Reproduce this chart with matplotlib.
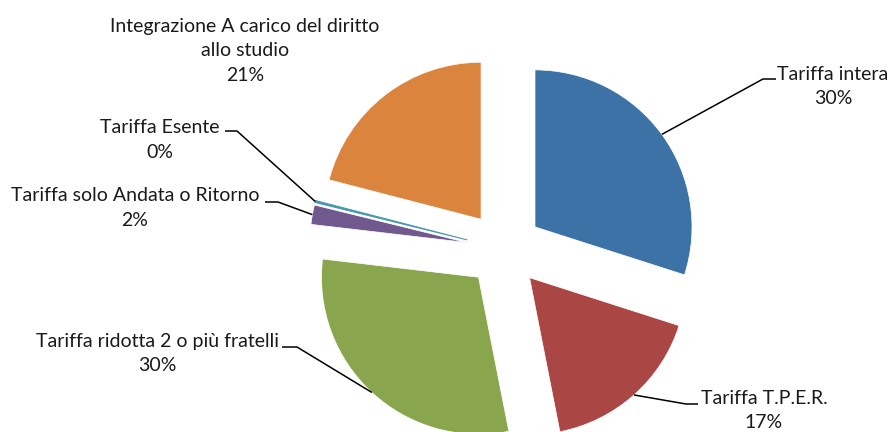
import math
import matplotlib.pyplot as plt

# data (shares in %)
categories = ['Tariffa intera', 'Tariffa T.P.E.R.', 'Tariffa ridotta 2 o più fratelli',
              'Tariffa solo Andata o Ritorno', 'Tariffa Esente',
              'Integrazione A carico del diritto\nallo studio']
values = [30, 17, 30, 2, 0.2, 21]
colors = ['#3D72A6', '#AA4643', '#89A54E', '#71588F', '#4198AF', '#DB843D']

W, H = 893, 432
fig = plt.figure(figsize=(W / 100, H / 100), dpi=100)
ax = fig.add_axes([0, 0, 1, 1])

# work in pixel units, y measured upward
cx, cy, r = 504.3, H - 249.3, 157
wedges, _ = ax.pie(values, colors=colors, startangle=90, counterclock=False,
                   center=(cx, cy), radius=r, explode=[38] * len(values),
                   wedgeprops=dict(edgecolor='white', linewidth=0.5))
wedges[4].set_edgecolor(colors[4])
wedges[4].set_linewidth(0.7)
ax.set_xlim(0, W)
ax.set_ylim(0, H)
ax.set_aspect('auto')
ax.axis('off')

total = sum(values)
# label layout (screen px): text centre, elbow, end of leader (None = no leader)
layout = [
    ((833, 86.5), (763, 79), (776, 79)),
    ((764, 410.5), (686, 404), (698, 404)),
    ((157, 353.5), (297, 347), (282, 347)),
    ((135, 208), (278, 202), (265, 202)),
    ((160, 140), (237, 131), (225, 131)),
    ((245, 51), None, None),
]

for w, name, v, (tpos, elbow, end) in zip(wedges, categories, values, layout):
    txt = f'{name}\n{round(v / total * 100)}%'
    ax.text(tpos[0], H - tpos[1], txt, ha='center', va='center',
            fontsize=14, family='Lato', color='#1a1a1a', linespacing=1.55)
    if elbow is None:
        continue
    mid = math.radians((w.theta1 + w.theta2) / 2)
    x0 = w.center[0] + w.r * math.cos(mid)
    y0 = w.center[1] + w.r * math.sin(mid)
    ax.plot([x0, elbow[0], end[0]], [y0, H - elbow[1], H - end[1]],
            color='black', lw=1.1, solid_capstyle='butt')

fig.savefig('out.png', dpi=100)
